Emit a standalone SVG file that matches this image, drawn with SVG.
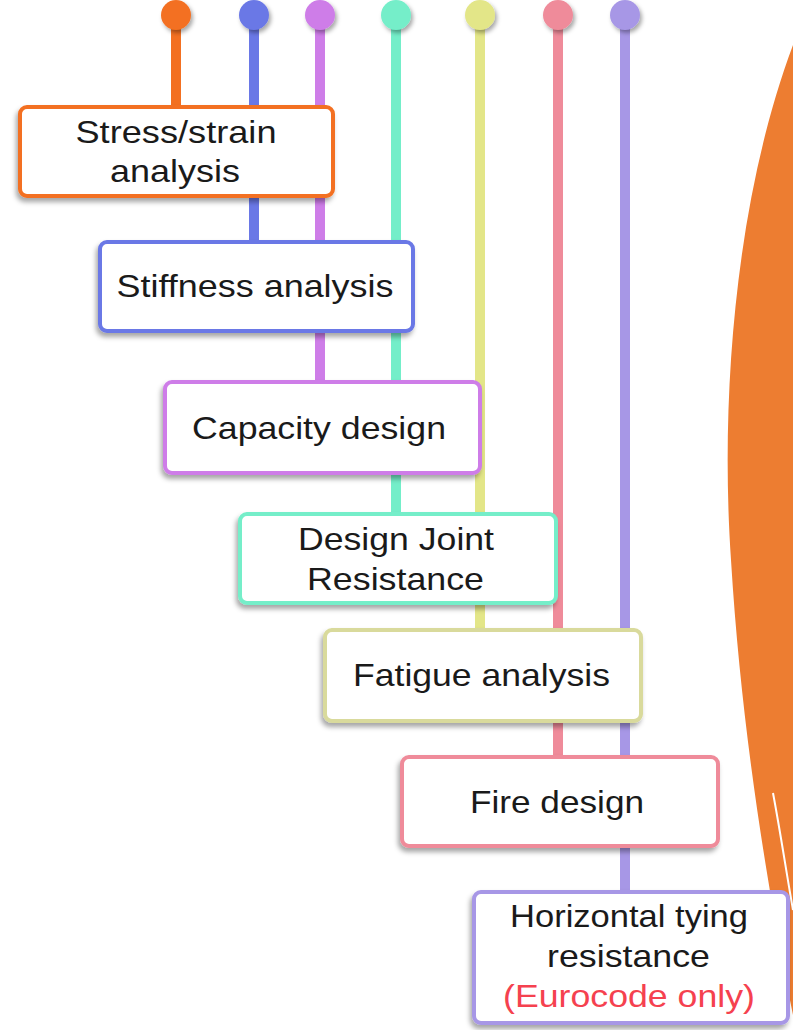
<svg xmlns="http://www.w3.org/2000/svg" width="793" height="1030" viewBox="0 0 793 1030">
<defs>
<filter id="sh" x="-10%" y="-10%" width="120%" height="130%">
<feDropShadow dx="-2" dy="4" stdDeviation="2.5" flood-color="#000" flood-opacity="0.35"/>
</filter>
<filter id="dsh" x="-50%" y="-50%" width="200%" height="200%">
<feDropShadow dx="2" dy="3" stdDeviation="2" flood-color="#000" flood-opacity="0.35"/>
</filter>
<style>
.box{fill:#fff;stroke-width:4;filter:url(#sh)}
.t{font-family:"Liberation Sans",Arial,sans-serif;font-size:32px;fill:#1a1a1a;text-anchor:middle}
.r{fill:#f5414f}
.ln{stroke-width:10;fill:none}
.dot{filter:url(#dsh)}
</style>
</defs>
<rect width="793" height="1030" fill="#fff"/>
<path d="M793,45 C735,200 720,400 731,560 C742,740 770,900 793,1015 Z" fill="#ED7D31"/>
<path d="M773,793 C780,830 786,870 793,910" stroke="#fff" stroke-width="2" fill="none"/>
<g id="connectors">
<line class="ln" x1="176" y1="15" x2="176" y2="110" stroke="#F37021"/>
<line class="ln" x1="254" y1="15" x2="254" y2="245" stroke="#6A78E6"/>
<line class="ln" x1="320" y1="15" x2="320" y2="385" stroke="#CE7DE8"/>
<line class="ln" x1="396" y1="15" x2="396" y2="517" stroke="#74EEC9"/>
<line class="ln" x1="480" y1="15" x2="480" y2="633" stroke="#E3E688"/>
<line class="ln" x1="558" y1="15" x2="558" y2="760" stroke="#EF8B9A"/>
<line class="ln" x1="625" y1="15" x2="625" y2="895" stroke="#A797E6"/>
<circle class="dot" cx="176" cy="15" r="15" fill="#F37021"/>
<circle class="dot" cx="254" cy="15" r="15" fill="#6A78E6"/>
<circle class="dot" cx="320" cy="15" r="15" fill="#CE7DE8"/>
<circle class="dot" cx="396" cy="15" r="15" fill="#74EEC9"/>
<circle class="dot" cx="480" cy="15" r="15" fill="#E3E688"/>
<circle class="dot" cx="558" cy="15" r="15" fill="#EF8B9A"/>
<circle class="dot" cx="625" cy="15" r="15" fill="#A797E6"/>
</g>
<g id="stress">
<rect class="box" x="20" y="107" width="313" height="89" rx="7" stroke="#F37021"/>
<text class="t" x="176" y="143" textLength="201" lengthAdjust="spacingAndGlyphs">Stress/strain</text>
<text class="t" x="175" y="182" textLength="130" lengthAdjust="spacingAndGlyphs">analysis</text>
</g>
<g id="stiffness">
<rect class="box" x="100" y="242" width="313" height="89" rx="7" stroke="#6A78E6"/>
<text class="t" x="255" y="297" textLength="277" lengthAdjust="spacingAndGlyphs">Stiffness analysis</text>
</g>
<g id="capacity">
<rect class="box" x="165" y="382" width="315" height="91" rx="7" stroke="#CE7DE8"/>
<text class="t" x="319" y="439" textLength="254" lengthAdjust="spacingAndGlyphs">Capacity design</text>
</g>
<g id="joint">
<rect class="box" x="240" y="514" width="316" height="89" rx="7" stroke="#74EEC9"/>
<text class="t" x="396" y="550" textLength="196" lengthAdjust="spacingAndGlyphs">Design Joint</text>
<text class="t" x="395.5" y="590" textLength="177" lengthAdjust="spacingAndGlyphs">Resistance</text>
</g>
<g id="fatigue">
<rect class="box" x="325" y="630" width="316" height="91" rx="7" stroke="#D9DA9C"/>
<text class="t" x="481.5" y="686" textLength="257" lengthAdjust="spacingAndGlyphs">Fatigue analysis</text>
</g>
<g id="fire">
<rect class="box" x="402" y="757" width="316" height="89" rx="7" stroke="#EF8B9A"/>
<text class="t" x="557" y="813" textLength="174" lengthAdjust="spacingAndGlyphs">Fire design</text>
</g>
<g id="tying">
<rect class="box" x="474" y="892" width="314" height="131" rx="7" stroke="#A797E6"/>
<text class="t" x="629" y="927" textLength="238" lengthAdjust="spacingAndGlyphs">Horizontal tying</text>
<text class="t" x="628.5" y="967" textLength="163" lengthAdjust="spacingAndGlyphs">resistance</text>
<text class="t r" x="629" y="1007" textLength="252" lengthAdjust="spacingAndGlyphs">(Eurocode only)</text>
</g>
</svg>
